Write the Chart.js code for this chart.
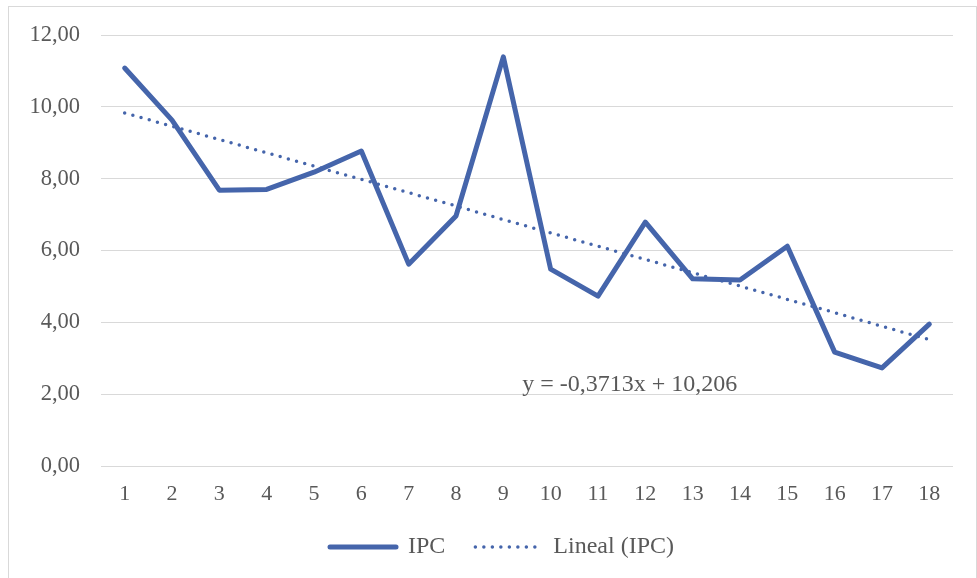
<!DOCTYPE html>
<html>
<head>
<meta charset="utf-8">
<script src="https://cdn.jsdelivr.net/npm/chart.js@4/dist/chart.umd.min.js"></script>
<style>
  body { margin: 0; background: #fff; }
  #wrap { position: absolute; left: 0; top: 0; width: 977px; height: 578px; }
  #frame { position: absolute; left: 8px; top: 6px; width: 967px; height: 571px; border: 1px solid #d9d9d9; pointer-events: none; }
</style>
</head>
<body>
<div id="wrap"><canvas id="chart"></canvas></div>
<div id="frame"></div>
<script>
const periods = ['1','2','3','4','5','6','7','8','9','10','11','12','13','14','15','16','17','18'];
const ipc = [11.08, 9.63, 7.68, 7.70, 8.18, 8.77, 5.62, 6.96, 11.39, 5.48, 4.73, 6.79, 5.21, 5.18, 6.12, 3.17, 2.73, 3.95];
// trend values from the equation printed on the chart
const lineal = [9.83, 9.46, 9.09, 8.72, 8.35, 7.98, 7.61, 7.24, 6.86, 6.49, 6.12, 5.75, 5.38, 5.01, 4.64, 4.27, 3.89, 3.52];
const yTicks = [0, 2, 4, 6, 8, 10, 12];
const equationText = 'y = -0,3713x + 10,206';
const equationAt = { x: 8.4, y: 2.25 };

const blue = '#4565ab';
const grey = '#595959';
const font = 'Liberation Serif, Times New Roman, serif';

const equationLabel = {
  id: 'equationLabel',
  afterDatasetsDraw(chart) {
    const ctx = chart.ctx;
    const x = chart.scales.x.getPixelForValue(equationAt.x);
    const y = chart.scales.y.getPixelForValue(equationAt.y);
    ctx.save();
    ctx.font = '24px ' + font;
    ctx.fillStyle = grey;
    ctx.textAlign = 'left';
    ctx.textBaseline = 'middle';
    ctx.fillText(equationText, x, y);
    ctx.restore();
  }
};

// excel centres the legend a bit right of the canvas middle
const legendShift = {
  id: 'legendShift',
  afterLayout(chart) {
    chart.legend.left += 13;
    chart.legend.right += 13;
  }
};

new Chart(document.getElementById('chart'), {
  type: 'line',
  data: {
    labels: periods,
    datasets: [
      {
        label: 'IPC',
        data: ipc,
        borderColor: blue,
        backgroundColor: blue,
        borderWidth: 5,
        borderCapStyle: 'round',
        borderJoinStyle: 'round',
        pointRadius: 0,
        tension: 0,
        order: 2
      },
      {
        label: 'Lineal (IPC)',
        data: lineal,
        borderColor: blue,
        backgroundColor: blue,
        borderWidth: 3.5,
        borderDash: [0, 8.5],
        borderCapStyle: 'round',
        pointRadius: 0,
        tension: 0,
        order: 1
      }
    ]
  },
  options: {
    responsive: true,
    maintainAspectRatio: false,
    animation: false,
    layout: { padding: { top: 35, left: 25, right: 24, bottom: 9 } },
    scales: {
      x: {
        offset: true,
        grid: { display: false, drawTicks: false },
        border: { display: false },
        ticks: { color: grey, font: { family: font, size: 22, lineHeight: 1 }, padding: 17, maxRotation: 0 },
        afterFit(s) { s.height = 39; }
      },
      y: {
        min: 0,
        max: 12,
        afterBuildTicks(s) { s.ticks = yTicks.map(v => ({ value: v })); },
        grid: { color: '#d9d9d9', lineWidth: 1, drawTicks: false },
        border: { display: false },
        ticks: {
          color: grey,
          font: { family: font, size: 22.5 },
          padding: 21,
          callback: v => v.toFixed(2).replace('.', ',')
        },
        afterFit(s) { s.width = 76; }
      }
    },
    plugins: {
      tooltip: { enabled: false },
      legend: {
        position: 'bottom',
        labels: {
          color: grey,
          font: { family: font, size: 24 },
          padding: 30,
          usePointStyle: true,
          pointStyleWidth: 66,
          generateLabels(chart) {
            return chart.data.datasets.map((d, i) => ({
              text: d.label,
              datasetIndex: i,
              fillStyle: d.borderColor,
              strokeStyle: d.borderColor,
              fontColor: grey,
              lineWidth: d.borderWidth,
              lineDash: d.borderDash || [],
              lineCap: 'round',
              pointStyle: 'line',
              hidden: false
            }));
          }
        }
      }
    }
  },
  plugins: [equationLabel, legendShift]
});
</script>
</body>
</html>
